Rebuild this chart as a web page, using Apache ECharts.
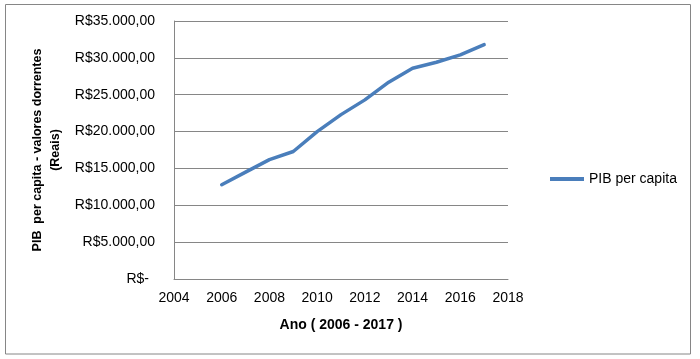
<!DOCTYPE html>
<html>
<head>
<meta charset="utf-8">
<script src="https://cdn.jsdelivr.net/npm/echarts@6/dist/echarts.min.js"></script>
<style>
html,body{margin:0;padding:0;background:#fff;}
#c{width:700px;height:359px;}
</style>
</head>
<body>
<div id="c"></div>
<script>
const years = [2006, 2007, 2008, 2009, 2010, 2011, 2012, 2013, 2014, 2015, 2016, 2017];
const pibPerCapita = [12790, 14500, 16200, 17300, 20000, 22300, 24300, 26700, 28600, 29400, 30400, 31800];
const seriesName = 'PIB per capita';
const xTitle = 'Ano ( 2006 - 2017 )';
const yTitle = 'PIB  per capita - valores dorrentes\n(Reais)';

function fmtBRL(v) {
  if (v === 0) return '{z|R$-}';
  const s = String(Math.round(v)).replace(/\B(?=(\d{3})+(?!\d))/g, '.');
  return 'R$' + s + ',00';
}

const chart = echarts.init(document.getElementById('c'), null, {renderer: 'canvas'});
const font = 'Liberation Sans, Arial, sans-serif';
chart.setOption({
  backgroundColor: '#ffffff',
  animation: false,
  textStyle: {fontFamily: font},
  grid: {left: 174, right: 192, top: 21, bottom: 80, containLabel: false},
  xAxis: {
    type: 'value', min: 2004, max: 2018, interval: 2,
    name: xTitle, nameLocation: 'middle', nameGap: 39,
    nameTextStyle: {fontSize: 14, fontWeight: 'bold', color: '#000', fontFamily: font},
    axisLine: {show: true, lineStyle: {color: '#868686', width: 1}},
    axisTick: {show: false},
    splitLine: {show: false},
    axisLabel: {color: '#000', fontSize: 14, margin: 12, fontFamily: font, formatter: v => String(v)}
  },
  yAxis: {
    type: 'value', min: 0, max: 35000, interval: 5000,
    name: yTitle, nameLocation: 'middle', nameGap: 109, nameRotate: 90,
    nameTextStyle: {fontSize: 12.5, fontWeight: 'bold', color: '#000', lineHeight: 18, align: 'center', fontFamily: font},
    axisLine: {show: true, lineStyle: {color: '#868686', width: 1}},
    axisTick: {show: false},
    splitLine: {show: true, lineStyle: {color: '#868686', width: 1}},
    axisLabel: {color: '#000', fontSize: 14, margin: 19, fontFamily: font, formatter: fmtBRL,
      rich: {z: {fontSize: 14, color: '#000', padding: [0, 6, 0, 0], fontFamily: font}}}
  },
  legend: {
    show: true, left: 545, top: 167, orient: 'vertical',
    icon: 'rect', itemWidth: 34, itemHeight: 4,
    textStyle: {fontSize: 14, color: '#000', fontFamily: font},
    data: [seriesName]
  },
  series: [{
    name: seriesName, type: 'line',
    data: years.map((y, i) => [y, pibPerCapita[i]]),
    showSymbol: false, symbol: 'none',
    lineStyle: {color: '#4a7ebb', width: 3.5, cap: 'round', join: 'round'},
    itemStyle: {color: '#4a7ebb'}
  }],
  graphic: [{
    type: 'rect', silent: true,
    shape: {x: 5.5, y: 4.5, width: 685, height: 349.5},
    style: {fill: 'none', stroke: '#868686', lineWidth: 1}
  }]
});
</script>
</body>
</html>
